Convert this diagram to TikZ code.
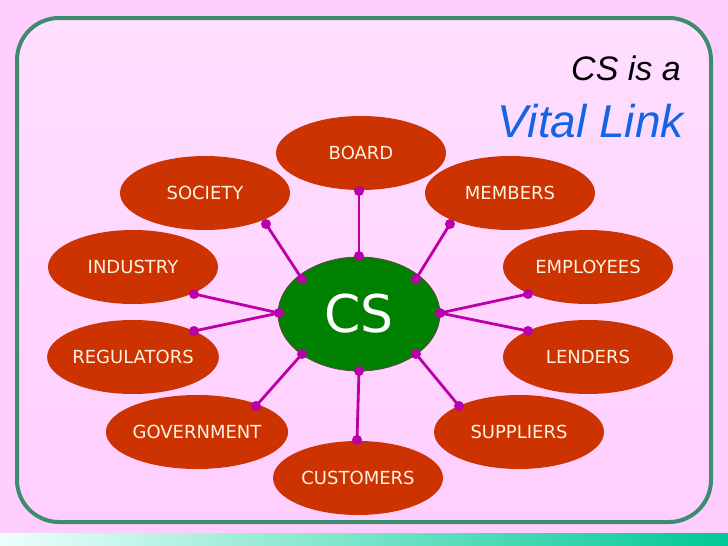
\documentclass[tikz,border=0pt]{standalone}
\usepackage{fontspec}
\setmainfont{DejaVu Sans}
\newfontfamily\arialfont{Liberation Sans}
\usetikzlibrary{shapes.geometric}
\definecolor{bgpink}{RGB}{255,206,255}
\definecolor{inpinktop}{RGB}{255,222,255}
\definecolor{inwhite}{RGB}{253,246,253}
\definecolor{inpinkbot}{RGB}{255,206,255}
\definecolor{frame}{RGB}{62,140,112}
\definecolor{ovalred}{RGB}{204,51,0}
\definecolor{labelcream}{RGB}{255,242,224}
\definecolor{csgreen}{RGB}{0,128,0}
\definecolor{csborder}{RGB}{96,70,70}
\definecolor{linkmag}{RGB}{187,0,170}
\definecolor{titleblue}{RGB}{20,100,230}
\definecolor{bandteal}{RGB}{0,200,150}
\definecolor{bandwhite}{RGB}{238,255,250}
\tikzset{
  oval/.style={ellipse, fill=ovalred, minimum width=170pt, minimum height=74pt, inner sep=0pt,
    text=labelcream, font=\fontsize{18}{20}\selectfont},
  csoval/.style={ellipse, fill=csgreen, draw=csborder, line width=0.8pt, minimum width=162pt,
    minimum height=114pt, inner sep=0pt, text=white, font=\fontsize{52}{60}\selectfont},
  link/.style={draw=linkmag, line width=2.8pt},
  linkdot/.style={fill=linkmag},
}
\begin{document}
\begin{tikzpicture}[x=1pt,y=-1pt]
\useasboundingbox (0,0) rectangle (728,546);
% background
\fill[bgpink] (0,0) rectangle (728,546);
\shade[left color=bandwhite, right color=bandteal] (0,533) rectangle (728,546);
% frame
\shade[top color=inpinktop, middle color=inwhite, bottom color=inpinkbot, rounded corners=42pt]
  (17,18) rectangle (711,522);
\draw[frame, line width=4pt, rounded corners=42pt] (17,18) rectangle (711,522);
% title
\node[anchor=base east, font=\arialfont\itshape\fontsize{34}{40}\selectfont, text=black, inner sep=0pt]
  (t1) at (681,80) {CS is a};
\node[anchor=base east, font=\arialfont\itshape\fontsize{46}{52}\selectfont, text=titleblue, inner sep=0pt]
  (t2) at (684,137) {Vital Link};
% nodes
\node[csoval] (cs) at (359,314) {CS};
\node[oval] (board) at (361,153) {BOARD};
\node[oval] (society) at (205,193) {SOCIETY};
\node[oval] (members) at (510,193) {MEMBERS};
\node[oval] (industry) at (133,267) {INDUSTRY};
\node[oval] (employees) at (588,267) {EMPLOYEES};
\node[oval] (regulators) at (133,357) {REGULATORS};
\node[oval] (lenders) at (588,357) {LENDERS};
\node[oval] (government) at (197,432) {GOVERNMENT};
\node[oval] (suppliers) at (519,432) {SUPPLIERS};
\node[oval] (customers) at (358,478) {CUSTOMERS};
% connection points
\coordinate (cT) at (359,256);
\coordinate (cUL) at (302,279);
\coordinate (cUR) at (416,279);
\coordinate (cL) at (279,313);
\coordinate (cR) at (440,313);
\coordinate (cLL) at (302,354);
\coordinate (cLR) at (416,354);
\coordinate (cB) at (359,371);
\coordinate (pBoard) at (359,191);
\coordinate (pSociety) at (266,224);
\coordinate (pMembers) at (450,224);
\coordinate (pIndustry) at (194,294);
\coordinate (pRegulators) at (194,331);
\coordinate (pEmployees) at (528,294);
\coordinate (pLenders) at (528,331);
\coordinate (pGovernment) at (256,406);
\coordinate (pSuppliers) at (459,406);
\coordinate (pCustomers) at (357,440);
% connectors
\draw[link] (cT) -- (pBoard);
\draw[link] (cUL) -- (pSociety);
\draw[link] (cUR) -- (pMembers);
\draw[link] (cL) -- (pIndustry);
\draw[link] (cL) -- (pRegulators);
\draw[link] (cR) -- (pEmployees);
\draw[link] (cR) -- (pLenders);
\draw[link] (cLL) -- (pGovernment);
\draw[link] (cLR) -- (pSuppliers);
\draw[link] (cB) -- (pCustomers);
% dots
\foreach \p in {cT,cUL,cUR,cL,cR,cLL,cLR,cB,pBoard,pSociety,pMembers,pIndustry,pRegulators,pEmployees,pLenders,pGovernment,pSuppliers,pCustomers}
  \fill[linkdot] (\p) circle (5pt);
\end{tikzpicture}
\end{document}
